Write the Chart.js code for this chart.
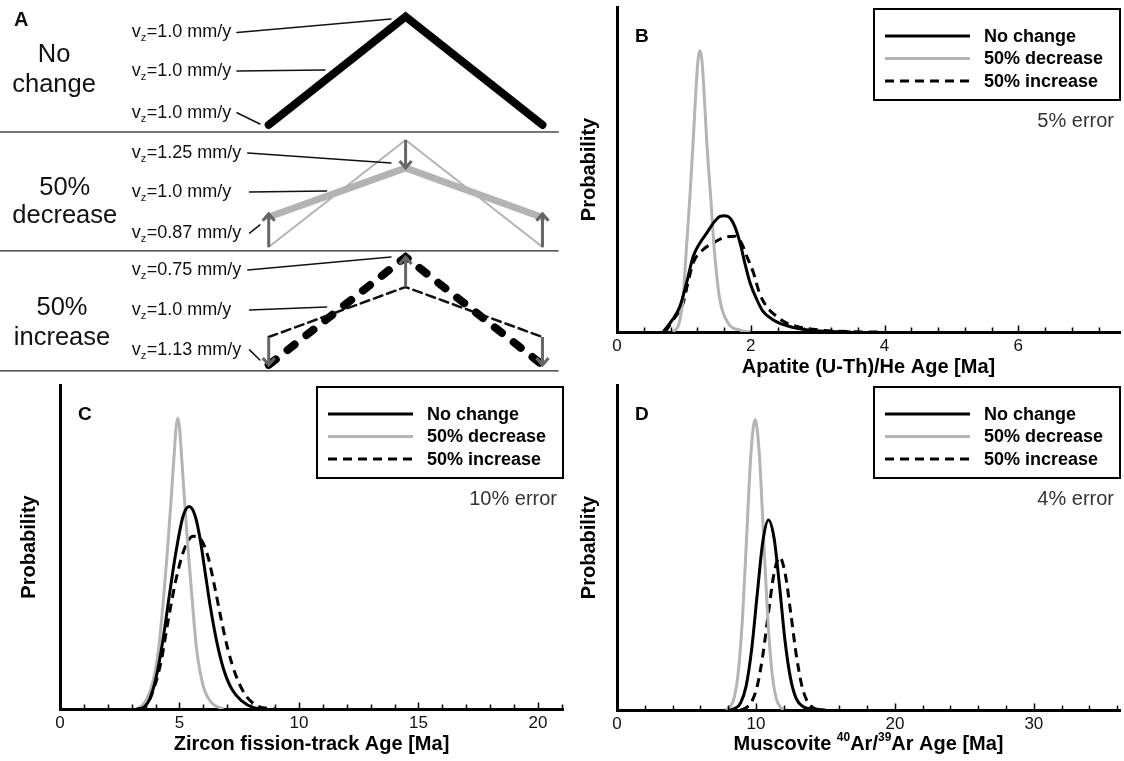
<!DOCTYPE html>
<html>
<head>
<meta charset="utf-8">
<script src="https://cdn.jsdelivr.net/npm/chart.js@4/dist/chart.umd.min.js"></script>
<style>
  html, body { margin: 0; padding: 0; background: #fff; }
  #figure { position: relative; width: 1124px; height: 761px; overflow: hidden; }
  #figure canvas { position: absolute; display: block; }
</style>
</head>
<body>
<div id="figure">
  <canvas id="panel-a" width="560" height="380" style="left:0;top:0"></canvas>
  <canvas id="panel-b" width="564" height="380" style="left:560px;top:0"></canvas>
  <canvas id="panel-c" width="566" height="381" style="left:0;top:380px"></canvas>
  <canvas id="panel-d" width="564" height="381" style="left:560px;top:380px"></canvas>
</div>
<script>
const FONT = '"Liberation Sans", Arial, Helvetica, sans-serif';
const legendLabels = ["No change", "50% decrease", "50% increase"];

// Panel A: ridge profile, distance (-1 flank, 0 crest, 1 flank) vs elevation
const ridgeX = [-1, 0, 1];
const noChangeElev = [0, 1.0, 0];
const decreaseBeforeElev = [-1.127, -0.139, -1.127];
const decreaseAfterElev = [-0.85, -0.397, -0.855];
const increaseBeforeElev = [-1.958, -1.496, -1.958];
const increaseAfterElev = [-2.216, -1.219, -2.216];
const rowDividers = [-0.065, -1.163, -2.271];
const rowTitles = [["No", "change"], ["50%", "decrease"], ["50%", "increase"]];
const velocityValues = ["1.0", "1.0", "1.0", "1.25", "1.0", "0.87", "0.75", "1.0", "1.13"];
const velocityElev = [0.808, 0.452, 0.067, -0.305, -0.665, -1.044, -1.385, -1.754, -2.123];
const leaderStartX = [-1.232, -1.232, -1.232, -1.153, -1.14, -1.14, -1.153, -1.14, -1.14];
const leaderEnds = [
  [-0.107, 0.979], [-0.589, 0.508], [-1.064, 0.009],
  [-0.107, -0.351], [-0.577, -0.609], [-1.064, -0.923],
  [-0.107, -1.219], [-0.577, -1.681], [-1.064, -2.170],
];
// arrows: [distance, from elevation, to elevation]
const upliftArrows = [
  [0, -0.139, -0.397], [-1, -1.127, -0.82], [1, -1.127, -0.82],
  [0, -1.496, -1.219], [-1, -1.958, -2.216], [1, -1.958, -2.216],
];

// Panel B: apatite (U-Th)/He age [Ma] vs probability (fraction of axis height)
const apatiteNoChange = [[0.69,0],[0.83,0.038],[0.94,0.078],[1.04,0.151],[1.14,0.233],[1.24,0.274],[1.34,0.304],[1.44,0.335],[1.54,0.356],[1.61,0.358],[1.69,0.351],[1.76,0.325],[1.84,0.274],[1.91,0.213],[1.99,0.151],[2.09,0.1],[2.18,0.064],[2.33,0.038],[2.53,0.02],[2.73,0.01],[3.03,0.003],[3.5,0]];
const apatiteDecrease = [[0.84,0],[0.93,0.028],[0.99,0.11],[1.04,0.264],[1.09,0.417],[1.14,0.591],[1.18,0.745],[1.21,0.835],[1.239,0.866],[1.27,0.835],[1.30,0.745],[1.34,0.591],[1.40,0.417],[1.45,0.264],[1.53,0.11],[1.66,0.028],[1.84,0.006],[1.99,0]];
const apatiteIncrease = [[0.72,0],[0.85,0.04],[0.99,0.09],[1.06,0.151],[1.14,0.213],[1.29,0.254],[1.44,0.274],[1.59,0.29],[1.76,0.295],[1.86,0.274],[1.94,0.233],[2.04,0.182],[2.13,0.12],[2.23,0.08],[2.38,0.049],[2.53,0.028],[2.73,0.015],[3.03,0.006],[3.5,0.001],[3.9,0]];

// Panel C: zircon fission-track age [Ma]
const zirconNoChange = [[3.2,0],[3.47,0.004],[3.75,0.03],[4.03,0.1],[4.31,0.214],[4.59,0.358],[4.87,0.492],[5.15,0.595],[5.41,0.625],[5.66,0.595],[5.87,0.522],[6.08,0.419],[6.29,0.316],[6.57,0.204],[6.85,0.122],[7.2,0.06],[7.62,0.024],[8.1,0.004],[8.66,0]];
const zirconDecrease = [[3.28,0],[3.63,0.03],[3.91,0.091],[4.12,0.183],[4.33,0.338],[4.50,0.492],[4.65,0.646],[4.79,0.8],[4.86,0.87],[4.93,0.897],[5.0,0.87],[5.07,0.8],[5.21,0.646],[5.36,0.492],[5.53,0.338],[5.72,0.183],[6.0,0.07],[6.35,0.019],[6.84,0]];
const zirconIncrease = [[3.3,0],[3.54,0.004],[3.96,0.07],[4.24,0.15],[4.52,0.27],[4.87,0.405],[5.22,0.497],[5.57,0.533],[5.91,0.522],[6.19,0.471],[6.47,0.378],[6.75,0.275],[7.03,0.183],[7.38,0.1],[7.79,0.04],[8.28,0.009],[8.98,0]];

// Panel D: muscovite 40Ar/39Ar age [Ma]
const muscoviteNoChange = [[8.1,0],[8.5,0.005],[8.9,0.022],[9.3,0.075],[9.7,0.19],[10.1,0.36],[10.5,0.52],[10.9,0.585],[11.3,0.53],[11.7,0.38],[12.1,0.21],[12.5,0.095],[12.9,0.035],[13.4,0.01],[14.2,0.002],[15.0,0]];
const muscoviteDecrease = [[7.84,0],[8.14,0.01],[8.44,0.039],[8.74,0.121],[9.04,0.29],[9.34,0.542],[9.64,0.789],[9.94,0.894],[10.24,0.789],[10.54,0.542],[10.84,0.29],[11.14,0.121],[11.44,0.039],[11.74,0.01],[12.04,0]];
const muscoviteIncrease = [[8.9,0],[9.3,0.007],[9.7,0.026],[10.1,0.075],[10.5,0.17],[10.9,0.30],[11.3,0.42],[11.7,0.47],[12.1,0.42],[12.5,0.30],[12.9,0.17],[13.3,0.075],[13.7,0.026],[14.1,0.007],[14.6,0]];

const toPoints = (pairs) => pairs.map(([x, y]) => ({ x, y }));
const ridge = (elev) => ridgeX.map((x, i) => ({ x, y: elev[i] }));

// ---------- panel A ----------
function schematicLine(data, color, width, dash) {
  return {
    data, showLine: true, borderColor: color, borderWidth: width,
    borderDash: dash || [], borderCapStyle: 'round', borderJoinStyle: 'miter',
    pointRadius: 0, clip: false, tension: 0,
  };
}

const schematicPlugin = {
  id: 'schematic',
  afterDatasetsDraw(chart) {
    const { ctx, scales: { x, y } } = chart;
    ctx.save();
    // uplift arrows
    ctx.strokeStyle = '#666';
    ctx.lineWidth = 3;
    ctx.lineCap = 'butt';
    upliftArrows.forEach(([d, from, to]) => {
      const px = x.getPixelForValue(d);
      const y0 = y.getPixelForValue(from);
      const y1 = y.getPixelForValue(to);
      const dir = Math.sign(y1 - y0);
      ctx.beginPath();
      ctx.moveTo(px, y0);
      ctx.lineTo(px, y1);
      ctx.moveTo(px - 6, y1 - dir * 7);
      ctx.lineTo(px, y1);
      ctx.lineTo(px + 6, y1 - dir * 7);
      ctx.stroke();
    });
    // velocity labels
    ctx.fillStyle = '#111';
    ctx.textAlign = 'left';
    ctx.textBaseline = 'alphabetic';
    const lx = x.getPixelForValue(-2.0);
    velocityValues.forEach((val, i) => {
      const py = y.getPixelForValue(velocityElev[i]);
      ctx.font = '18px ' + FONT;
      ctx.fillText('v', lx, py);
      let w = ctx.measureText('v').width;
      ctx.font = '11px ' + FONT;
      ctx.fillText('z', lx + w, py + 4);
      w += ctx.measureText('z').width + 0.5;
      ctx.font = '18px ' + FONT;
      ctx.fillText('=' + val + ' mm/y', lx + w, py);
    });
    // row titles
    ctx.font = '25.5px ' + FONT;
    ctx.textAlign = 'center';
    const titleX = [-2.568, -2.49, -2.51];
    const titleY = [[0.582, 0.305], [-0.647, -0.905], [-1.754, -2.031]];
    rowTitles.forEach((lines, r) => {
      lines.forEach((t, k) => {
        ctx.fillText(t, x.getPixelForValue(titleX[r]), y.getPixelForValue(titleY[r][k]));
      });
    });
    ctx.font = 'bold 20px ' + FONT;
    ctx.textAlign = 'left';
    ctx.fillText('A', 14, 26);
    ctx.restore();
  },
};

const schematicDatasets = [
  ...rowDividers.map((e, i) => schematicLine([{ x: -2.963, y: e }, { x: 1.114, y: e }], i === 0 ? '#777' : '#222', i === 0 ? 2 : 1.3)),
  ...leaderEnds.map((end, i) => schematicLine([{ x: leaderStartX[i], y: velocityElev[i] + 0.046 }, { x: end[0], y: end[1] }], '#111', 1.5)),
  schematicLine(ridge(decreaseBeforeElev), '#b3b3b3', 2),
  schematicLine(ridge(decreaseAfterElev), '#b3b3b3', 7),
  schematicLine(ridge(increaseBeforeElev), '#111', 2.5, [9, 5]),
  schematicLine(ridge(increaseAfterElev), '#000', 8, [9, 15]),
  schematicLine(ridge(noChangeElev), '#000', 8),
];

new Chart(document.getElementById('panel-a'), {
  type: 'scatter',
  data: { datasets: schematicDatasets },
  options: {
    responsive: false,
    animation: false,
    events: [],
    layout: { padding: 0 },
    plugins: { legend: { display: false }, tooltip: { enabled: false } },
    scales: {
      x: { type: 'linear', display: false, min: -2.963, max: 1.128 },
      y: { type: 'linear', display: false, min: -2.355, max: 1.154 },
    },
  },
  plugins: [schematicPlugin],
});

// ---------- panels B, C, D ----------
function panelDecor(cfg) {
  return {
    id: 'panelDecor',
    afterDatasetsDraw(chart) {
      const { ctx, chartArea: area, scales: { x } } = chart;
      ctx.save();
      // inward tick marks
      ctx.strokeStyle = '#000';
      ctx.lineWidth = 1.5;
      const n = Math.floor(cfg.xMax / cfg.minor + 1e-6);
      for (let i = 0; i <= n; i++) {
        const v = i * cfg.minor;
        const major = Math.abs(v / cfg.step - Math.round(v / cfg.step)) < 1e-6;
        const px = Math.round(x.getPixelForValue(v)) + 0.5;
        ctx.beginPath();
        ctx.moveTo(px, area.bottom);
        ctx.lineTo(px, area.bottom - (major ? 6.5 : 4.5));
        ctx.stroke();
      }
      // panel letter
      ctx.fillStyle = '#000';
      ctx.font = 'bold 19px ' + FONT;
      ctx.textAlign = 'left';
      ctx.textBaseline = 'alphabetic';
      ctx.fillText(cfg.letter, area.left + 18, area.top + 35);
      // legend box
      const boxW = 246, boxH = 91;
      const bx = area.right - boxW, by = area.top + 2;
      ctx.fillStyle = '#fff';
      ctx.fillRect(bx, by, boxW, boxH);
      ctx.lineWidth = 2;
      ctx.strokeRect(bx, by, boxW, boxH);
      const rowY = [27, 49.5, 72];
      chart.data.datasets.forEach((ds, i) => {
        const yy = by + rowY[i];
        ctx.strokeStyle = ds.borderColor;
        ctx.lineWidth = 3;
        ctx.setLineDash(ds.borderDash || []);
        ctx.beginPath();
        ctx.moveTo(bx + 11, yy);
        ctx.lineTo(bx + 96, yy);
        ctx.stroke();
        ctx.setLineDash([]);
        ctx.fillStyle = '#000';
        ctx.font = 'bold 18px ' + FONT;
        ctx.textBaseline = 'middle';
        ctx.fillText(ds.label, bx + 110, yy + 1);
      });
      // error note
      ctx.fillStyle = '#333';
      ctx.font = '20px ' + FONT;
      ctx.textAlign = 'right';
      ctx.textBaseline = 'alphabetic';
      ctx.fillText(cfg.errorNote, area.right - 6, by + boxH + 27);
      // axis title with superscripts
      if (cfg.richTitle) {
        const big = 'bold 20px ' + FONT, small = 'bold 12px ' + FONT;
        let total = 0;
        cfg.richTitle.forEach(([t, sup]) => { ctx.font = sup ? small : big; total += ctx.measureText(t).width; });
        let cx = (area.left + area.right) / 2 - total / 2;
        const cy = chart.height - cfg.titleOffset;
        ctx.fillStyle = '#000';
        ctx.textAlign = 'left';
        ctx.textBaseline = 'middle';
        cfg.richTitle.forEach(([t, sup]) => {
          ctx.font = sup ? small : big;
          ctx.fillText(t, cx, sup ? cy - 6 : cy);
          cx += ctx.measureText(t).width;
        });
      }
      ctx.restore();
    },
  };
}

function buildAgePanel(canvasId, cfg) {
  const datasets = [
    { label: legendLabels[0], data: toPoints(cfg.noChange), borderColor: '#000', borderDash: [] },
    { label: legendLabels[1], data: toPoints(cfg.decrease), borderColor: '#b4b4b4', borderDash: [] },
    { label: legendLabels[2], data: toPoints(cfg.increase), borderColor: '#000', borderDash: [9, 6] },
  ].map((ds) => ({
    ...ds, borderWidth: 3, pointRadius: 0, fill: false,
    cubicInterpolationMode: 'monotone', borderCapStyle: 'butt',
  }));

  new Chart(document.getElementById(canvasId), {
    type: 'line',
    data: { datasets },
    options: {
      responsive: false,
      animation: false,
      events: [],
      layout: { padding: { top: cfg.padTop, right: cfg.padRight, left: 0, bottom: 0 } },
      plugins: { legend: { display: false }, tooltip: { enabled: false } },
      scales: {
        x: {
          type: 'linear', min: 0, max: cfg.xMax,
          afterFit: (s) => { s.height = cfg.xAxisHeight; },
          grid: { display: false, drawTicks: false },
          border: { display: true, color: '#000', width: 3 },
          ticks: {
            stepSize: cfg.step, includeBounds: false, padding: 4, color: '#111',
            maxRotation: 0, autoSkip: false, font: { family: FONT, size: 17 },
          },
          title: {
            display: !cfg.richTitle, text: cfg.title, color: '#000',
            font: { family: FONT, size: 20, weight: 'bold' },
            padding: { top: 0, bottom: cfg.titleOffset - 12 },
          },
        },
        y: {
          type: 'linear', min: 0, max: 1,
          afterFit: (s) => { s.width = cfg.yAxisWidth; },
          grid: { display: false, drawTicks: false },
          border: { display: true, color: '#000', width: 3 },
          ticks: { display: false },
          title: {
            display: true, text: 'Probability', color: '#000',
            font: { family: FONT, size: 20, weight: 'bold' },
            padding: { top: 17, bottom: 0 },
          },
        },
      },
    },
    plugins: [panelDecor(cfg)],
  });
}

buildAgePanel('panel-b', {
  letter: 'B', errorNote: '5% error', title: 'Apatite (U-Th)/He Age [Ma]',
  noChange: apatiteNoChange, decrease: apatiteDecrease, increase: apatiteIncrease,
  xMax: 7.52, step: 2, minor: 0.4,
  yAxisWidth: 57, xAxisHeight: 48, padTop: 7, padRight: 4, titleOffset: 13,
});

buildAgePanel('panel-c', {
  letter: 'C', errorNote: '10% error', title: 'Zircon fission-track Age [Ma]',
  noChange: zirconNoChange, decrease: zirconDecrease, increase: zirconIncrease,
  xMax: 21.05, step: 5, minor: 1,
  yAxisWidth: 60, xAxisHeight: 52, padTop: 5, padRight: 3, titleOffset: 17,
});

buildAgePanel('panel-d', {
  letter: 'D', errorNote: '4% error', title: 'Muscovite 40Ar/39Ar Age [Ma]',
  richTitle: [['Muscovite ', false], ['40', true], ['Ar/', false], ['39', true], ['Ar Age [Ma]', false]],
  noChange: muscoviteNoChange, decrease: muscoviteDecrease, increase: muscoviteIncrease,
  xMax: 36.2, step: 10, minor: 2,
  yAxisWidth: 57, xAxisHeight: 51, padTop: 5, padRight: 4, titleOffset: 17,
});
</script>
</body>
</html>
